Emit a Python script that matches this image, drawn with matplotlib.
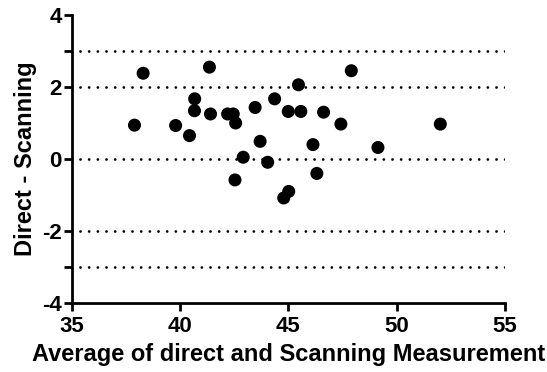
import matplotlib
matplotlib.use("Agg")
import matplotlib.pyplot as plt

# Bland-Altman data: mean of the two methods vs. their difference
avg_measurement = [37.90, 38.30, 41.36, 39.80, 40.44, 40.68, 40.67, 41.41, 42.20, 42.46,
                   42.57, 42.54, 42.92, 43.47, 43.70, 44.05, 44.37, 45.00, 45.47, 45.58,
                   44.79, 45.02, 46.14, 46.32, 46.63, 47.43, 47.91, 49.14, 52.02]
difference = [0.94, 2.38, 2.55, 0.93, 0.65, 1.67, 1.34, 1.25, 1.25, 1.25,
              1.00, -0.58, 0.05, 1.43, 0.49, -0.09, 1.67, 1.32, 2.06, 1.32,
              -1.08, -0.90, 0.40, -0.40, 1.30, 0.97, 2.45, 0.32, 0.97]

# Reference lines (bias and limits)
ref_lines = [3, 2, 0, -2, -3]

x_ticks = [35, 40, 45, 50, 55]
y_ticks = [-4, -3, -2, 0, 2, 3, 4]
y_tick_labels = ["-4", "", "-2", "0", "2", "", "4"]

plt.rcParams["font.family"] = ["Liberation Sans", "DejaVu Sans"]
plt.rcParams["font.weight"] = "bold"

fig = plt.figure(figsize=(5.47, 3.72), dpi=100)
ax = fig.add_axes([0.131, 0.185, 0.792, 0.775])

for yv in ref_lines:
    ax.plot([35.4, 55], [yv, yv], color="black", lw=2.0,
            linestyle=(0, (0.01, 3.11)), dash_capstyle="round", zorder=1)

ax.scatter(avg_measurement, difference, s=88, color="black", edgecolors="none", zorder=3)

ax.set_xlim(35, 55)
ax.set_ylim(-4, 4)
ax.set_xticks(x_ticks)
ax.set_yticks(y_ticks)
ax.set_yticklabels(y_tick_labels)

for side in ("top", "right"):
    ax.spines[side].set_visible(False)
for side in ("left", "bottom"):
    ax.spines[side].set_linewidth(2)
ax.tick_params(axis="both", width=2, length=5.5, labelsize=16, direction="out")
ax.tick_params(axis="x", pad=4)
ax.tick_params(axis="y", pad=1.5)
for lab in ax.get_xticklabels() + ax.get_yticklabels():
    lab.set_fontweight("bold")

ax.set_xlabel("Average of direct and Scanning Measurement", fontsize=17, fontweight="bold", labelpad=4)
ax.set_ylabel("Direct - Scanning", fontsize=17, fontweight="bold", labelpad=4)

fig.savefig("out.png", dpi=100)
